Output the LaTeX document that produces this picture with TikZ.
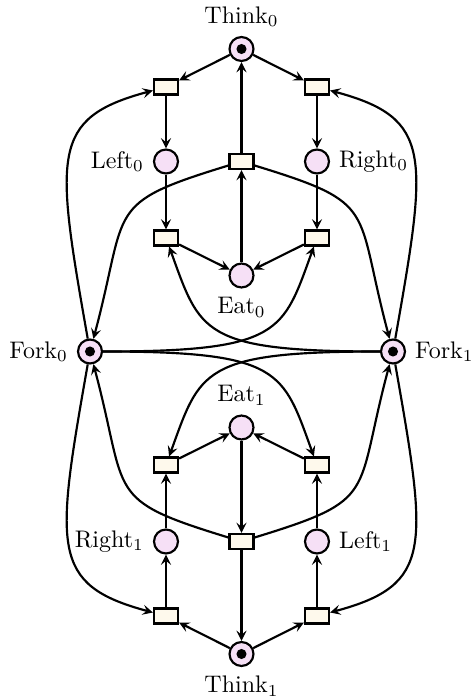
\documentclass[tikz,border=0pt]{standalone}
\usetikzlibrary{arrows.meta}
\definecolor{placefill}{RGB}{246,224,246}
\definecolor{transfill}{RGB}{254,249,236}
\begin{document}
\begin{tikzpicture}[x=0.417pt,y=0.417pt,line width=0.9pt,
  >={Stealth[length=4.3pt,width=4.2pt,inset=1.7pt]},
  place/.style={circle,draw,fill=placefill,minimum size=10pt,inner sep=0pt},
  transition/.style={rectangle,draw,fill=transfill,minimum width=10pt,minimum height=6.2pt,inner sep=0pt},
  arc/.style={->}]
\useasboundingbox (-241.5,-347.5) rectangle (231.5,351.5);

% shared places
\node[place,label=above:Think$_0$] (think0) at (0,302.5) {};
\node[place,label=below:Think$_1$] (think1) at (0,-302.5) {};
\node[place,label=left:Fork$_0$]   (fork0)  at (-151.5,0) {};
\node[place,label=right:Fork$_1$]  (fork1)  at (151.5,0) {};

% philosopher 0
\node[transition] (tl0) at (-75.5,264.5) {};
\node[transition] (tr0) at (75.5,264.5) {};
\node[place,label=left:Left$_0$]   (left0)  at (-75.5,190) {};
\node[transition] (c0) at (0,190) {};
\node[place,label=right:Right$_0$] (right0) at (75.5,190) {};
\node[transition] (ll0) at (-75.5,113.5) {};
\node[transition] (lr0) at (75.5,113.5) {};
\node[place,label=below:Eat$_0$] (eat0) at (0,76) {};

% philosopher 1
\node[place,label=above:Eat$_1$] (eat1) at (0,-76) {};
\node[transition] (ul1) at (-75.5,-113.5) {};
\node[transition] (ur1) at (75.5,-113.5) {};
\node[place,label=left:Right$_1$] (right1) at (-75.5,-190) {};
\node[transition] (c1) at (0,-190) {};
\node[place,label=right:Left$_1$] (left1) at (75.5,-190) {};
\node[transition] (bl1) at (-75.5,-264.5) {};
\node[transition] (br1) at (75.5,-264.5) {};

% tokens
\foreach \n in {think0,think1,fork0,fork1}
  \fill (\n) circle (2.1pt);

% philosopher 0 arcs
\draw[arc] (think0) -- (tl0);
\draw[arc] (think0) -- (tr0);
\draw[arc] (tl0) -- (left0);
\draw[arc] (tr0) -- (right0);
\draw[arc] (left0) -- (ll0);
\draw[arc] (right0) -- (lr0);
\draw[arc] (ll0) -- (eat0);
\draw[arc] (lr0) -- (eat0);
\draw[arc] (eat0) -- (c0);
\draw[arc] (c0) -- (think0);
\draw[arc] (fork0) .. controls +(100:200) and +(195:120) .. (tl0);
\draw[arc] (fork1) .. controls +(80:200) and +(-15:120) .. (tr0);
\draw[arc] (c0) .. controls +(197:145) and +(75:150) .. (fork0);
\draw[arc] (c0) .. controls +(-17:145) and +(105:150) .. (fork1);
\draw[arc] (fork1) .. controls +(180:192) and +(-70:100) .. (ll0);
\draw[arc] (fork0) .. controls +(0:192) and +(-110:100) .. (lr0);

% philosopher 1 arcs
\draw[arc] (think1) -- (bl1);
\draw[arc] (think1) -- (br1);
\draw[arc] (bl1) -- (right1);
\draw[arc] (br1) -- (left1);
\draw[arc] (right1) -- (ul1);
\draw[arc] (left1) -- (ur1);
\draw[arc] (ul1) -- (eat1);
\draw[arc] (ur1) -- (eat1);
\draw[arc] (eat1) -- (c1);
\draw[arc] (c1) -- (think1);
\draw[arc] (fork0) .. controls +(260:200) and +(165:120) .. (bl1);
\draw[arc] (fork1) .. controls +(280:200) and +(15:120) .. (br1);
\draw[arc] (c1) .. controls +(163:145) and +(-75:150) .. (fork0);
\draw[arc] (c1) .. controls +(17:145) and +(-105:150) .. (fork1);
\draw[arc] (fork1) .. controls +(180:192) and +(70:100) .. (ul1);
\draw[arc] (fork0) .. controls +(0:192) and +(110:100) .. (ur1);
\end{tikzpicture}
\end{document}
